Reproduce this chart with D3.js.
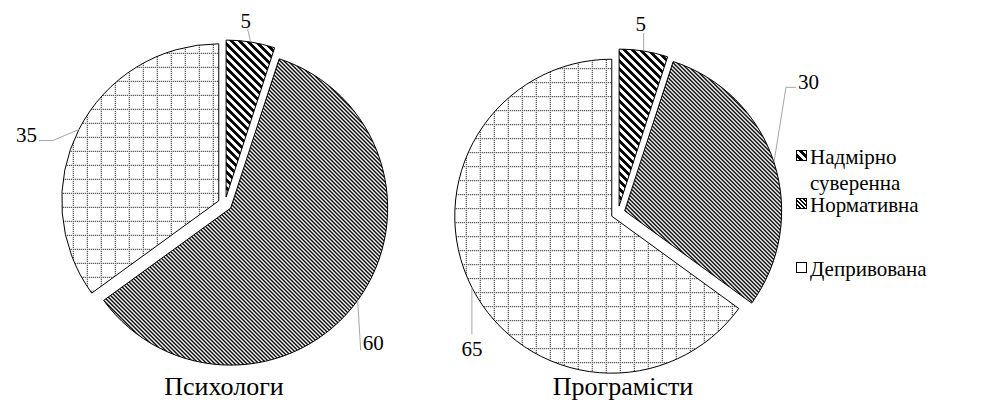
<!DOCTYPE html>
<html lang="uk">
<head>
<meta charset="utf-8">
<title>Pie charts</title>
<script src="https://cdn.jsdelivr.net/npm/d3@7"></script>
<style>
  body { margin: 0; background: #fff; }
  svg text { font-family: "Liberation Serif", "DejaVu Serif", serif; fill: #000; }
</style>
</head>
<body>
<script>
// data
var categories = ["Надмірно суверенна", "Нормативна", "Депривована"];
var groups = ["Психологи", "Програмісти"];
var psychologists = [5, 60, 35];
var programmers = [5, 30, 65];
var legendLines = [["Надмірно", "суверенна"], ["Нормативна"], ["Депривована"]];
var patternIds = ["wideDiag", "darkDiag", "dotGrid"];

// layout
var width = 981, height = 405;
var radius = 157, explode = 7;
var centers = [[225, 204], [618, 213]];
var titlePos = [[224, 395], [623, 395]];
// leader bend points relative to the slice's outer mid point, then text offset from last point
var leaderLayout = [
  [ {pts: [[-3, -13]], anchor: "middle", dx: -2, dy: -1},
    {pts: [[3, 50]], anchor: "start", dx: 2, dy: 0},
    {pts: [[-26, 11], [-40, 11]], anchor: "end", dx: -2, dy: 1} ],
  [ {pts: [[0, -18]], anchor: "middle", dx: -3, dy: -2},
    {pts: [[12, -75], [22, -75]], anchor: "start", dx: 2, dy: 2},
    {pts: [[0, 47]], anchor: "middle", dx: 0, dy: 22} ]
];

var svg = d3.select("body").append("svg")
  .attr("width", width)
  .attr("height", height)
  .attr("font-family", "Liberation Serif, serif")
  .style("background", "#fff");

// patterns
var defs = svg.append("defs");

// wide downward diagonal, 8x8 tile
var p1 = defs.append("pattern").attr("id", "wideDiag")
  .attr("patternUnits", "userSpaceOnUse").attr("width", 8).attr("height", 8);
p1.append("rect").attr("width", 8).attr("height", 8).attr("fill", "#fff");
for (var y = 0; y < 8; y++) {
  for (var k = 0; k < 4; k++) {
    p1.append("rect").attr("x", (y + k) % 8).attr("y", y).attr("width", 1).attr("height", 1)
      .attr("fill", "#000").attr("shape-rendering", "crispEdges");
  }
}

// dark downward diagonal, 4x4 tile
var p2 = defs.append("pattern").attr("id", "darkDiag")
  .attr("patternUnits", "userSpaceOnUse").attr("width", 4).attr("height", 4);
p2.append("rect").attr("width", 4).attr("height", 4).attr("fill", "#fff");
for (var y2 = 0; y2 < 4; y2++) {
  for (var k2 = 0; k2 < 2; k2++) {
    p2.append("rect").attr("x", (y2 + k2) % 4).attr("y", y2).attr("width", 1).attr("height", 1)
      .attr("fill", "#000").attr("shape-rendering", "crispEdges");
  }
}

// dotted grid, 14x14 tile
var p3 = defs.append("pattern").attr("id", "dotGrid")
  .attr("patternUnits", "userSpaceOnUse").attr("width", 14).attr("height", 14)
  .attr("x", 8).attr("y", 6);
p3.append("rect").attr("width", 14).attr("height", 14).attr("fill", "#fff");
for (var i = 0; i < 14; i += 2) {
  p3.append("rect").attr("x", 0).attr("y", i).attr("width", 1).attr("height", 1)
    .attr("fill", "#000").attr("shape-rendering", "crispEdges");
  p3.append("rect").attr("x", i).attr("y", 0).attr("width", 1).attr("height", 1)
    .attr("fill", "#000").attr("shape-rendering", "crispEdges");
}

var pie = d3.pie().sort(null).value(function(d) { return d; });
var arc = d3.arc().innerRadius(0).outerRadius(radius);

function midAngle(d) { return (d.startAngle + d.endAngle) / 2; }

function drawPie(values, idx) {
  var c = centers[idx];
  var g = svg.append("g").attr("transform", "translate(" + c[0] + "," + c[1] + ")");
  var slices = pie(values);

  g.selectAll("path.slice")
    .data(slices)
    .enter()
    .append("path")
    .attr("class", "slice")
    .attr("transform", function(d) {
      var a = midAngle(d);
      return "translate(" + (explode * Math.sin(a)) + "," + (-explode * Math.cos(a)) + ")";
    })
    .attr("d", arc)
    .attr("fill", function(d, i) { return "url(#" + patternIds[i] + ")"; })
    .attr("stroke", "#000")
    .attr("stroke-width", 1);

  // labels with leader lines
  slices.forEach(function(d, i) {
    var a = midAngle(d);
    var r = radius + explode;
    var x0 = r * Math.sin(a), y0 = -r * Math.cos(a);
    var lay = leaderLayout[idx][i];
    var pts = [[x0, y0]].concat(lay.pts.map(function(p) { return [x0 + p[0], y0 + p[1]]; }));
    g.append("path")
      .attr("d", d3.line()(pts))
      .attr("fill", "none")
      .attr("stroke", "#a6a6a6")
      .attr("stroke-width", 1);
    var last = pts[pts.length - 1];
    g.append("text")
      .attr("x", last[0] + lay.dx)
      .attr("y", last[1] + lay.dy)
      .attr("text-anchor", lay.anchor)
      .attr("font-size", 21)
      .text(d.data);
  });
}

drawPie(psychologists, 0);
drawPie(programmers, 1);

// group titles
svg.selectAll("text.title")
  .data(groups)
  .enter()
  .append("text")
  .attr("class", "title")
  .attr("x", function(d, i) { return titlePos[i][0]; })
  .attr("y", function(d, i) { return titlePos[i][1]; })
  .attr("text-anchor", "middle")
  .attr("font-size", 26)
  .text(function(d) { return d; });

// legend
var legendBaselines = [164, 212, 276];
var legend = svg.append("g");
categories.forEach(function(cat, i) {
  var by = legendBaselines[i];
  legend.append("rect")
    .attr("x", 796.5).attr("y", by - 13.5)
    .attr("width", 10).attr("height", 10)
    .attr("fill", "url(#" + patternIds[i] + ")")
    .attr("stroke", "#000").attr("stroke-width", 1);
  legendLines[i].forEach(function(line, j) {
    legend.append("text")
      .attr("x", 810)
      .attr("y", by + j * 26)
      .attr("font-size", 21)
      .text(line);
  });
});
</script>
</body>
</html>
